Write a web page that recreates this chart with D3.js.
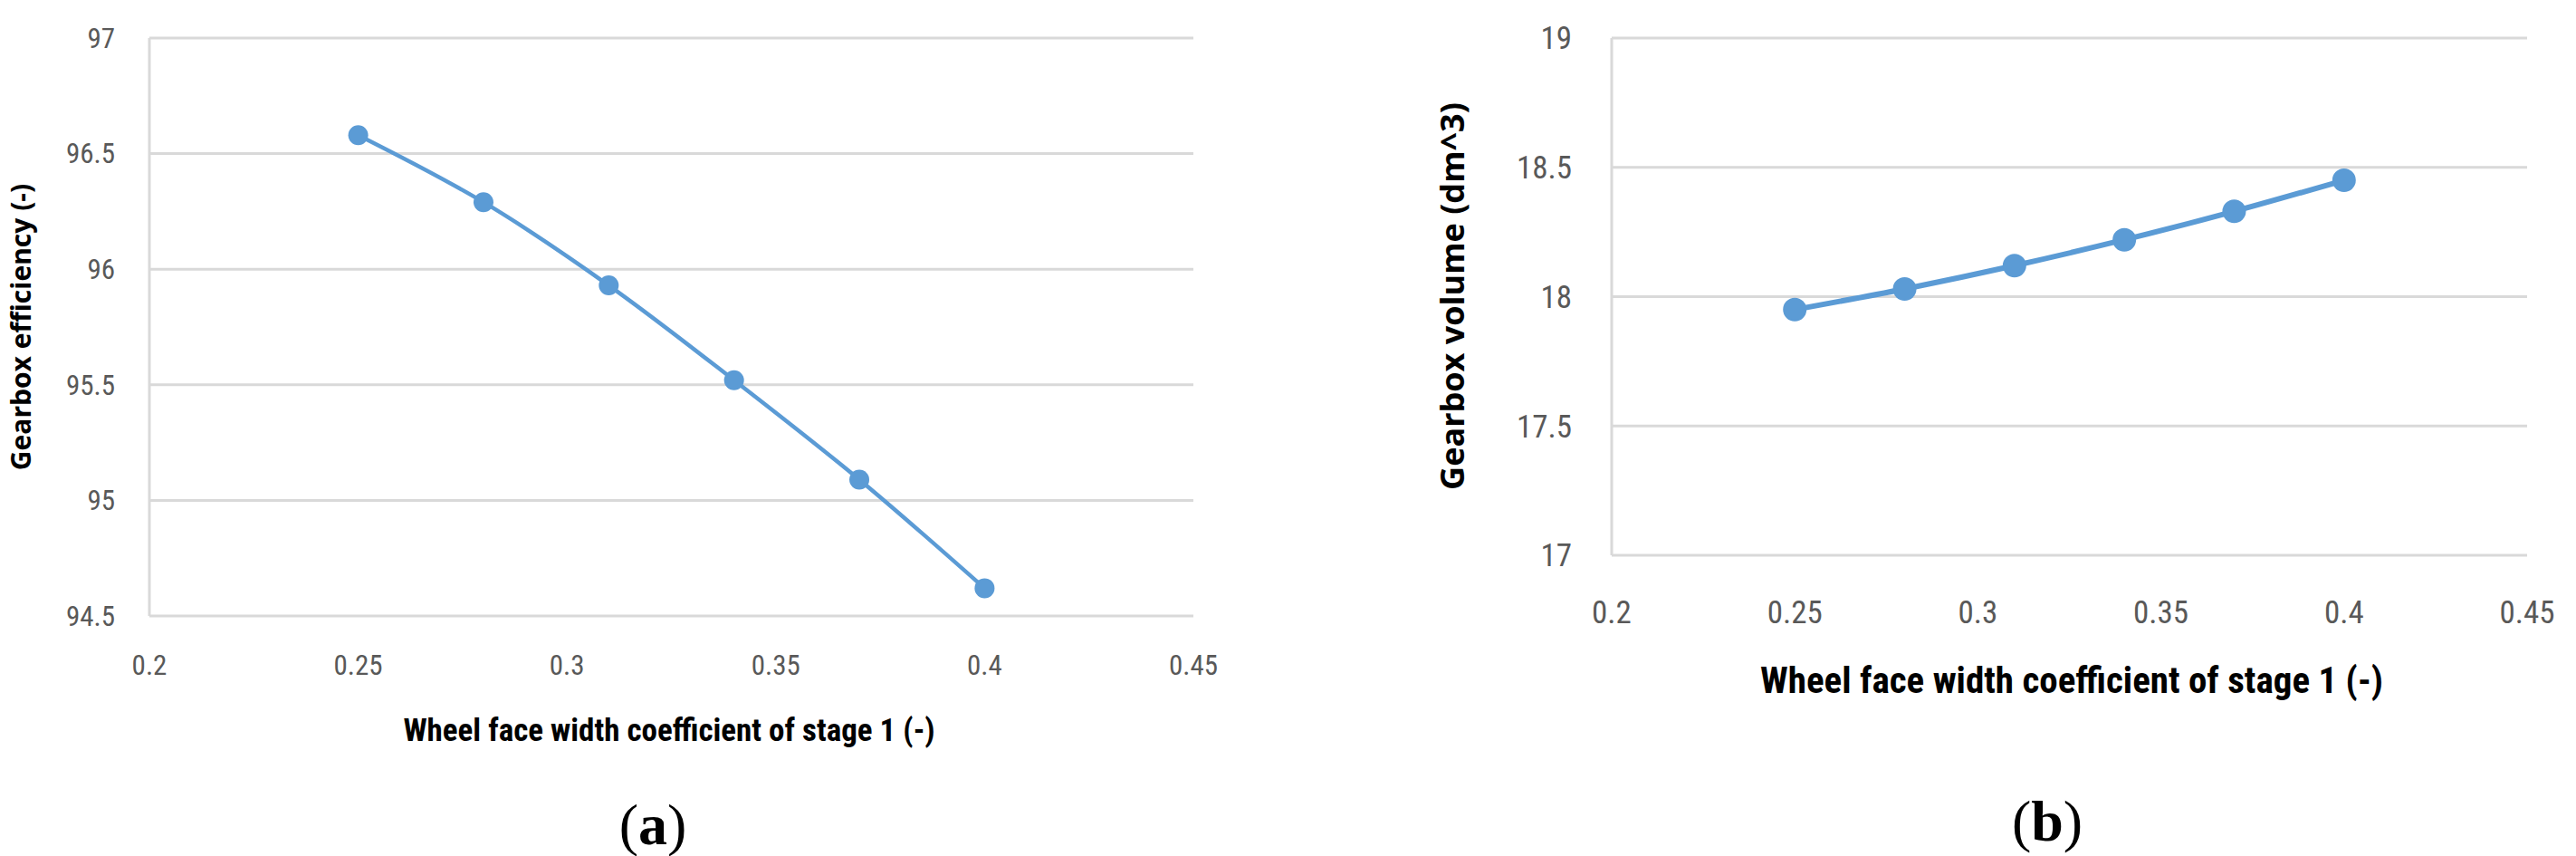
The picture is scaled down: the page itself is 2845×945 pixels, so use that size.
<!DOCTYPE html>
<html><head><meta charset="utf-8">
<script src="https://cdn.jsdelivr.net/npm/d3@7"></script>
<style>body{margin:0;background:#fff}</style></head>
<body><svg id="c" width="2845" height="945"></svg>
<script>
const xCoef = [0.25, 0.28, 0.31, 0.34, 0.37, 0.40];
const efficiency = [96.58, 96.29, 95.93, 95.52, 95.09, 94.62];
const volume = [17.95, 18.03, 18.12, 18.22, 18.33, 18.45];
const xTicks = [0.2, 0.25, 0.3, 0.35, 0.4, 0.45];
const effTicks = [94.5, 95, 95.5, 96, 96.5, 97];
const volTicks = [17, 17.5, 18, 18.5, 19];

const svg = d3.select('#c');
const narrow = '"Liberation Sans Narrow","Roboto Condensed","Open Sans",sans-serif';
function panel(o){
  const x = d3.scaleLinear().domain([0.2,0.45]).range([o.x0,o.x1]);
  const y = d3.scaleLinear().domain(o.yd).range([o.y1,o.y0]);
  const g = svg.append('g');
  g.selectAll('.gl').data(o.yt).enter().append('line')
    .attr('x1',o.x0).attr('x2',o.x1).attr('y1',d=>y(d)).attr('y2',d=>y(d))
    .attr('stroke','#d9d9d9').attr('stroke-width',3);
  g.append('line').attr('x1',o.x0).attr('x2',o.x0).attr('y1',o.y0).attr('y2',o.y1)
    .attr('stroke','#d9d9d9').attr('stroke-width',3);
  g.selectAll('.yt').data(o.yt).enter().append('text')
    .attr('x',o.x0-o.lblGap).attr('y',d=>y(d)).attr('dy','0.35em').attr('text-anchor','end')
    .attr('font-family',narrow).attr('font-size',o.tfs).attr('fill','#595959').text(d=>d);
  g.selectAll('.xt').data(xTicks).enter().append('text')
    .attr('x',d=>x(d)).attr('y',o.xty).attr('text-anchor','middle')
    .attr('font-family',narrow).attr('font-size',o.tfs).attr('fill','#595959').text(d=>d);
  const pts = xCoef.map((d,i)=>[x(d),y(o.vals[i])]);
  g.append('path').attr('d',d3.line().curve(d3.curveCatmullRom)(pts))
    .attr('fill','none').attr('stroke','#5b9bd5').attr('stroke-width',o.lw);
  g.selectAll('circle').data(pts).enter().append('circle')
    .attr('cx',d=>d[0]).attr('cy',d=>d[1]).attr('r',o.r).attr('fill','#5b9bd5');
  g.append('text').attr('x',o.xtx).attr('y',o.xtitley).attr('text-anchor','middle')
    .attr('font-family',narrow).attr('font-weight','bold').attr('font-size',o.xfs).attr('fill','#000').text('Wheel face width coefficient of stage 1 (-)');
  g.append('text').attr('transform',`translate(${o.ytx},${o.yty}) rotate(-90)`).attr('text-anchor','middle')
    .attr('font-family','"Open Sans",sans-serif').attr('font-weight','bold').attr('font-size',o.yfs).attr('fill','#000').text(o.ytitle);
  const lab = g.append('text').attr('x',o.lx).attr('y',o.ly).attr('text-anchor','middle')
    .attr('font-family','"Liberation Serif",serif').attr('font-size',64).attr('fill','#000');
  lab.append('tspan').text('(');
  lab.append('tspan').attr('font-weight','bold').text(o.lab);
  lab.append('tspan').text(')');
}
panel({x0:165,x1:1318,y0:42,y1:680,yd:[94.5,97],yt:effTicks,vals:efficiency,tfs:31,lblGap:38,xty:745,
  lw:4.5,r:11,xtx:739,xtitley:818,xfs:35,ytx:34,yty:361,yfs:30,ytitle:'Gearbox efficiency (-)',lx:721,ly:932,lab:'a'});
panel({x0:1780,x1:2791,y0:42,y1:613,yd:[17,19],yt:volTicks,vals:volume,tfs:35,lblGap:44,xty:688,
  lw:6,r:13,xtx:2288,xtitley:765,xfs:41,ytx:1617,yty:327,yfs:36,ytitle:'Gearbox volume (dm^3)',lx:2261,ly:928,lab:'b'});
</script></body></html>
